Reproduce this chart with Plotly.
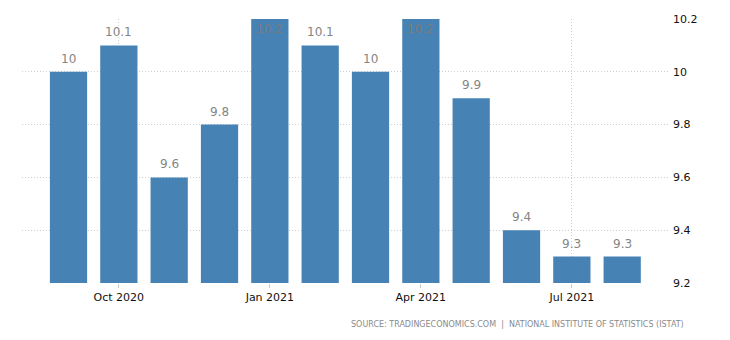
import plotly.graph_objects as go

months = ["Sep 2020", "Oct 2020", "Nov 2020", "Dec 2020", "Jan 2021", "Feb 2021",
          "Mar 2021", "Apr 2021", "May 2021", "Jun 2021", "Jul 2021", "Aug 2021"]
values = [10.0, 10.1, 9.6, 9.8, 10.2, 10.1, 10.0, 10.2, 9.9, 9.4, 9.3, 9.3]
tick_labels = ["Oct 2020", "Jan 2021", "Apr 2021", "Jul 2021"]
y_ticks = [9.2, 9.4, 9.6, 9.8, 10.0, 10.2]
y_tick_text = ["9.2", "9.4", "9.6", "9.8", "10", "10.2"]

YMIN, YMAX = 9.2, 10.2
idx = list(range(len(months)))
tick_idx = [months.index(t) for t in tick_labels]

fig = go.Figure(go.Bar(
    x=idx, y=[v - YMIN for v in values], base=YMIN,
    marker=dict(color="#4682B4", line=dict(width=0)),
    width=0.74,
    hoverinfo="skip",
))

annotations = []
for i, v in zip(idx, values):
    inside = v >= YMAX
    annotations.append(dict(
        x=i, y=v, xref="x", yref="y", text=f"{v:g}", showarrow=False,
        xanchor="center", yanchor="middle", yshift=-10 if inside else 13,
        font=dict(family="DejaVu Sans", size=12, color="#7a7a7a" if inside else "#858585"),
    ))
annotations.append(dict(
    text="SOURCE: TRADINGECONOMICS.COM  |  NATIONAL INSTITUTE OF STATISTICS (ISTAT)",
    xref="paper", yref="paper", x=(686 - 22) / 647, y=(283 - 324) / 264,
    xanchor="right", yanchor="middle", showarrow=False,
    font=dict(family="DejaVu Sans", size=8, color="#8a8a8a"),
))

grid = dict(showgrid=True, gridcolor="#cfcfcf", griddash="1px,2px", gridwidth=1)

fig.update_layout(
    width=730, height=340,
    margin=dict(l=22, r=61, t=19, b=57),
    paper_bgcolor="white", plot_bgcolor="white",
    showlegend=False,
    xaxis=dict(
        range=[-0.924, 11.93],
        tickmode="array", tickvals=tick_idx, ticktext=tick_labels,
        ticks="outside", ticklen=4, tickcolor="#c8c8c8",
        tickfont=dict(family="DejaVu Sans", size=11, color="#111111"),
        showline=False, zeroline=False, fixedrange=True, **grid,
    ),
    yaxis=dict(
        side="right", range=[YMIN, YMAX],
        tickmode="array", tickvals=y_ticks, ticktext=y_tick_text,
        tickfont=dict(family="DejaVu Sans", size=11, color="#111111"),
        ticklabelstandoff=3,
        showline=False, zeroline=False, fixedrange=True, **grid,
    ),
    annotations=annotations,
)

fig.write_html("out.html")
